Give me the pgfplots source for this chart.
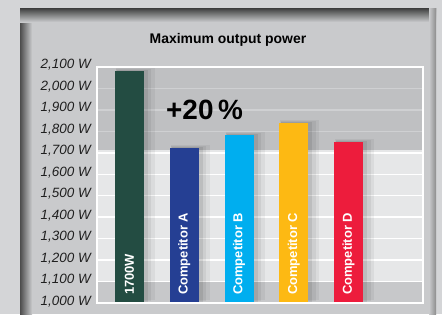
\documentclass[border=0pt]{standalone}
\usepackage{fontspec}
\setmainfont{Liberation Sans}
\usepackage{pgfplots}
\pgfplotsset{compat=1.18}
\definecolor{bgout}{HTML}{D4D5D7}
\definecolor{panel}{HTML}{C9CACC}
\definecolor{bandtop}{HTML}{BFC0C2}
\definecolor{bandmid}{HTML}{E6E7E8}
\definecolor{bandbot}{HTML}{C7C8CA}
\definecolor{gridtop}{HTML}{CFD0D2}
\definecolor{cgreen}{HTML}{234C42}
\definecolor{cblue}{HTML}{253F93}
\definecolor{ccyan}{HTML}{00AEEF}
\definecolor{cyellow}{HTML}{FDB913}
\definecolor{cred}{HTML}{ED1C3C}
\newcommand\shbar[3]{%
  \addplot[ybar, bar width=39bp, bar shift=6bp, yshift=3bp, fill=black, fill opacity=0.05, draw=none] coordinates {(#1,#2)};
  \addplot[ybar, bar width=35bp, bar shift=4.5bp, yshift=2bp, fill=black, fill opacity=0.06, draw=none] coordinates {(#1,#2)};
  \addplot[ybar, bar width=31bp, bar shift=3bp, yshift=1bp, fill=black, fill opacity=0.08, draw=none] coordinates {(#1,#2)};
  \addplot[ybar, bar width=29bp, bar shift=0pt, fill=#3, draw=none] coordinates {(#1,#2)};
}
\newcommand\barlabel[2]{%
  \node[rotate=90, anchor=west, inner sep=0pt, text=white,
    font=\bfseries\fontsize{13}{13}\selectfont] at ([yshift=8bp]axis cs:#1,1000) {#2};
}
\begin{document}
\begin{tikzpicture}[x=1bp,y=1bp]
\fill[bgout] (0,0) rectangle (442,314);
\useasboundingbox (0,0) rectangle (442,314);
\fill[panel] (20,0) rectangle (436,305);
\shade[left color=black!70, right color=panel] (20,0) rectangle (32,305);
\shade[top color=black!72, bottom color=panel] (20,292) rectangle (436,305);
\shade[left color=panel, right color=black!45] (429,0) rectangle (436,305);
\begin{axis}[
  at={(97bp,11bp)}, anchor=south west, scale only axis,
  width=326bp, height=236bp,
  xmin=-0.593, xmax=5.36, ymin=1000, ymax=2100,
  xtick=\empty,
  ytick={1000,1100,1200,1300,1400,1500,1600,1700,1800,1900,2000,2100},
  yticklabel={\textit{\pgfmathprintnumber[assume math mode=true, fixed, precision=0, 1000 sep={,}]{\tick}~W}},
  major tick length=0pt,
  axis line style={white, line width=1.5bp},
  axis on top,
  yticklabel style={anchor=base east, inner sep=0pt, xshift=-5bp, yshift=-2bp,
    font=\fontsize{13.5}{13.5}\selectfont, text=black!88},
  clip=true,
]
\fill[bandbot] (axis cs:-1,1000) rectangle (axis cs:6,1100);
\fill[bandmid] (axis cs:-1,1100) rectangle (axis cs:6,1715);
\fill[bandtop] (axis cs:-1,1715) rectangle (axis cs:6,2100);
\pgfplotsinvokeforeach{1100,1200,1300,1400,1500,1600,1700}{
  \draw[white, line width=1.5bp] (axis cs:-1,#1) -- (axis cs:6,#1);
}
\pgfplotsinvokeforeach{1800,1900,2000}{
  \draw[gridtop, line width=1.2bp] (axis cs:-1,#1) -- (axis cs:6,#1);
}
\shbar{0}{2080}{cgreen}
\shbar{1}{1722}{cblue}
\shbar{2}{1782}{ccyan}
\shbar{3}{1838}{cyellow}
\shbar{4}{1750}{cred}
\barlabel{0}{1700W}
\barlabel{1}{Competitor A}
\barlabel{2}{Competitor B}
\barlabel{3}{Competitor C}
\barlabel{4}{Competitor D}
\end{axis}
\node[anchor=base, inner sep=0pt, font=\bfseries\fontsize{14}{14}\selectfont] at (228,270.5) {Maximum output power};
\node[anchor=base west, inner sep=0pt, font=\bfseries\fontsize{28}{28}\selectfont] at (166,195) {+20\,\%};
\end{tikzpicture}
\end{document}
